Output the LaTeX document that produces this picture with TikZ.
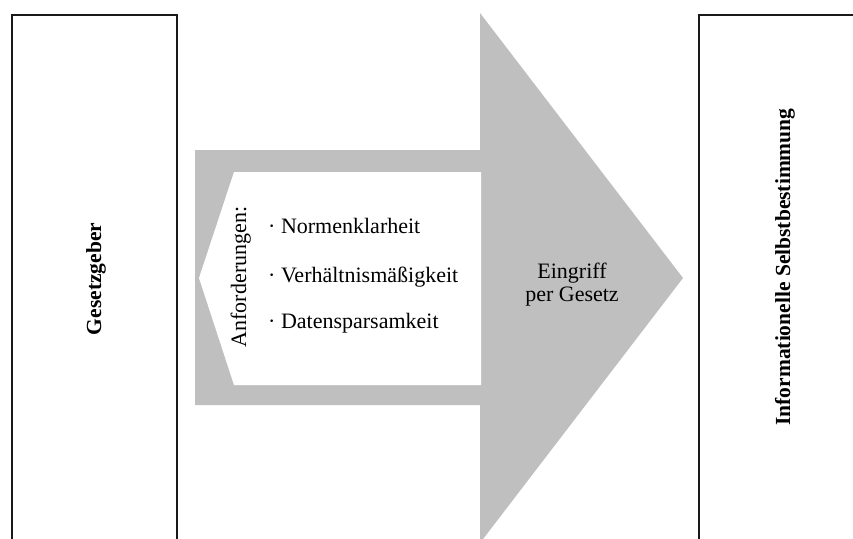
\documentclass[tikz,border=0pt]{standalone}
\usepackage{fontspec}
\setmainfont{Liberation Serif}
\usetikzlibrary{calc}

\begin{document}
\begin{tikzpicture}[x=1pt,y=-1pt,
  wall/.style={line width=2pt,black!90},
  txt/.style={font=\fontsize{22}{23}\selectfont,inner sep=0pt},
  boldtxt/.style={font=\fontsize{21.5}{23}\selectfont\bfseries,inner sep=0pt}]
% Page frame
\clip (0,0) rectangle (853,538);
% Corners of the shaft
\coordinate (sa) at (195,150);
\coordinate (sb) at (195,405);
% Corners of the head
\coordinate (ha) at (480,13);
\coordinate (tip) at (683,278);
\coordinate (hb) at (480,543);
% Draw the grey arrow
\fill[black!25] (sa) -- (sa -| ha) -- (ha) -- (tip) -- (hb) -- (sb -| hb) -- (sb) -- cycle;
% Cut the white notch into the shaft
\fill[white] (199,278) -- (234,172) -- (481,172) -- (481,385) -- (234,385) -- cycle;
% Left and right walls, open at the border
\draw[wall] (12,560) -- (12,14.5) -- (177,14.5) -- (177,560);
\draw[wall] (699,560) -- (699,14.5) -- (880,14.5);
% Labels of the walls
\node[boldtxt,rotate=90,anchor=base] (geber) at (101,279) {Gesetzgeber};
\node[boldtxt,rotate=90,anchor=base] (selbst) at (790,267) {Informationelle Selbstbestimmung};
% Requirements inside the notch
\node[txt,rotate=90,anchor=base] (anf) at (246,277) {Anforderungen:};
\node[txt,anchor=base west] (norm) at (268,233) {· Normenklarheit};
\node[txt,anchor=base west] (verh) at (268,282) {· Verhältnismäßigkeit};
\node[txt,anchor=base west] (daten) at (268,328) {· Datensparsamkeit};
% Label of the head
\node[txt,align=center] (eingriff) at (572,285) {Eingriff\\per Gesetz};
\end{tikzpicture}
\end{document}
